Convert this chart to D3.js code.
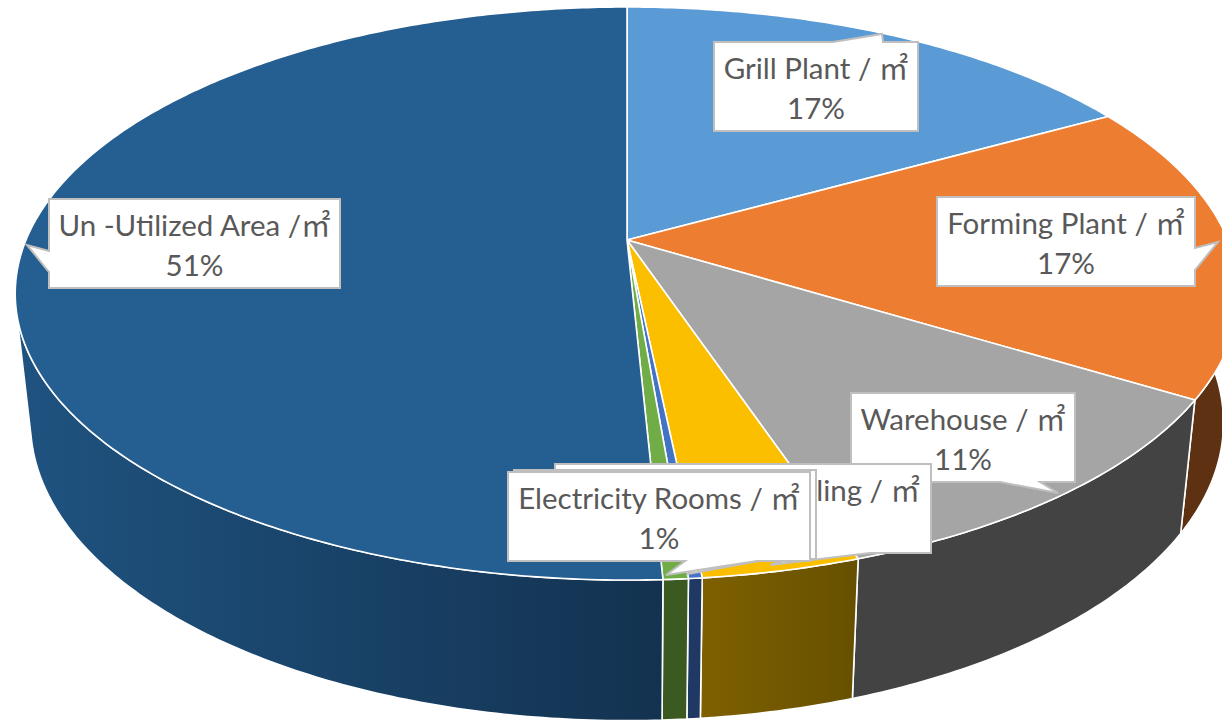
<!DOCTYPE html>
<html>
<head>
<meta charset="utf-8">
<script src="https://cdn.jsdelivr.net/npm/d3@7"></script>
<style>
html, body { margin: 0; padding: 0; background: #fff; overflow: hidden; }
svg { display: block; }
text { font-family: Lato, "Noto Sans CJK SC", sans-serif; font-size: 29.5px; fill: #595959; }
</style>
</head>
<body>
<svg id="chart" width="1222" height="720"></svg>
<script>
// Donnees
const sliceNames = ["Grill Plant", "Forming Plant", "Warehouse", "Building", "Other Rooms", "Electricity Rooms", "Un -Utilized Area"];
const sliceValues = [16.9, 16.85, 11.125, 3.5, 0.3, 0.55, 50.775];
const topColors = ["#5b9bd5", "#ed7d31", "#a5a5a5", "#fbbf00", "#4472c4", "#70ad47", "#255e91"];
const wallColorsLeft = ["#335d80", "#5e3113", "#434343", "#7f6000", "#1f3864", "#3b5a21", "#1f5380"];
const wallColorsRight = ["#335d80", "#5e3113", "#434343", "#665000", "#1f3864", "#3b5a21", "#133250"];

// Reglages de la projection
const view = { cx: 627, cy: 240, a: 601, b: 276.5, k: 0.1868 };
const base = { scaleX: 0.975, scaleY: 1.04, drop: 127 };
const wallLimits = [Math.PI * 0.44, Math.PI * 1.42];
const areaUnit = "㎡";

// Bulles des etiquettes, dans l'ordre de dessin
const callouts = [
    { slice: 0, x: 714, y: 42, w: 204, h: 89, side: "top", from: 833, tip: [882, 34], to: 883, lines: ["name", "pct"] },
    { slice: 1, x: 937, y: 197, w: 258, h: 89, side: "right", from: 248, tip: [1218, 242], to: 270, lines: ["name", "pct"] },
    { slice: 2, x: 851, y: 393, w: 224, h: 89, side: "bottom", from: 1040, tip: [1058, 493], to: 1000, lines: ["name", "pct"] },
    { slice: 6, x: 49, y: 199, w: 291, h: 89, side: "left", from: 272, tip: [27, 245], to: 251, lines: ["name", "pct"] },
    { slice: 3, x: 555, y: 464, w: 376, h: 89, side: "bottom", from: 870, tip: [770, 565], to: 810, lines: [], partial: "ling / " + areaUnit },
    { slice: 4, x: 514, y: 470, w: 302, h: 89, side: "bottom", from: 770, tip: [688, 574], to: 700, lines: [] },
    { slice: 5, x: 508, y: 472, w: 302, h: 89, side: "bottom", from: 757, tip: [666, 575], to: 685, lines: ["name", "pct"] }
];

const svg = d3.select("#chart");
const total = d3.sum(sliceValues);
const formatPct = d3.format(".0%");

const slices = d3.pie().sort(null).value(function(d) { return d; })(sliceValues);

function projectTop(angle) {
    const u = Math.sin(angle);
    const v = -Math.cos(angle);
    const w = 1 - view.k * v;
    return [view.a * u / w, view.b * v / w];
}

function projectBase(angle) {
    const p = projectTop(angle);
    return [p[0] * base.scaleX, p[1] * base.scaleY + base.drop];
}

function toScreen(p) {
    return [view.cx + p[0], view.cy + p[1]];
}

function arcPoints(start, end, project) {
    const steps = Math.max(2, Math.ceil((end - start) * 90));
    return d3.range(steps + 1).map(function(i) {
        return toScreen(project(start + (end - start) * i / steps));
    });
}

const line = d3.line();

// Degrades des parois
const defs = svg.append("defs");
slices.forEach(function(s, i) {
    const grad = defs.append("linearGradient")
        .attr("id", "wall" + i)
        .attr("x1", 0).attr("x2", 1).attr("y1", 0).attr("y2", 0);
    grad.append("stop").attr("offset", "0%").attr("stop-color", wallColorsLeft[i]);
    grad.append("stop").attr("offset", "100%").attr("stop-color", wallColorsRight[i]);
});

// Parois
slices.forEach(function(s, i) {
    const start = Math.max(s.startAngle, wallLimits[0]);
    const end = Math.min(s.endAngle, wallLimits[1]);
    if (end <= start) {
        return;
    }
    const points = arcPoints(start, end, projectTop).concat(arcPoints(start, end, projectBase).reverse());
    svg.append("path")
        .attr("d", line(points) + "Z")
        .attr("fill", "url(#wall" + i + ")")
        .attr("stroke", "#fff")
        .attr("stroke-width", 1.6)
        .attr("stroke-linejoin", "round");
});

// Dessus du camembert
slices.forEach(function(s, i) {
    const points = [toScreen([0, 0])].concat(arcPoints(s.startAngle, s.endAngle, projectTop));
    svg.append("path")
        .attr("d", line(points) + "Z")
        .attr("fill", topColors[i])
        .attr("stroke", "#fff")
        .attr("stroke-width", 1.6)
        .attr("stroke-linejoin", "round");
});

// Bulles
function calloutPath(c) {
    const path = d3.path();
    const right = c.x + c.w;
    const bottom = c.y + c.h;
    path.moveTo(c.x, c.y);
    if (c.side === "top") {
        path.lineTo(c.from, c.y);
        path.lineTo(c.tip[0], c.tip[1]);
        path.lineTo(c.to, c.y);
    }
    path.lineTo(right, c.y);
    if (c.side === "right") {
        path.lineTo(right, c.from);
        path.lineTo(c.tip[0], c.tip[1]);
        path.lineTo(right, c.to);
    }
    path.lineTo(right, bottom);
    if (c.side === "bottom") {
        path.lineTo(c.from, bottom);
        path.lineTo(c.tip[0], c.tip[1]);
        path.lineTo(c.to, bottom);
    }
    path.lineTo(c.x, bottom);
    if (c.side === "left") {
        path.lineTo(c.x, c.from);
        path.lineTo(c.tip[0], c.tip[1]);
        path.lineTo(c.x, c.to);
    }
    path.closePath();
    return path.toString();
}

callouts.forEach(function(c) {
    const group = svg.append("g");
    group.append("path")
        .attr("d", calloutPath(c))
        .attr("fill", "#fff")
        .attr("stroke", "#bfbfbf")
        .attr("stroke-width", 2);

    const middle = c.x + c.w / 2;
    if (c.lines.length) {
        const gap = sliceNames[c.slice].startsWith("Un") ? " /" : " / ";
        group.append("text")
            .attr("x", middle)
            .attr("y", c.y + 37)
            .attr("text-anchor", "middle")
            .text(sliceNames[c.slice] + gap + areaUnit);
        group.append("text")
            .attr("x", middle)
            .attr("y", c.y + 77)
            .attr("text-anchor", "middle")
            .text(formatPct(sliceValues[c.slice] / total));
    }
    if (c.partial) {
        group.append("text")
            .attr("x", c.x + c.w - 11)
            .attr("y", c.y + 37)
            .attr("text-anchor", "end")
            .text(c.partial);
    }
});
</script>
</body>
</html>
